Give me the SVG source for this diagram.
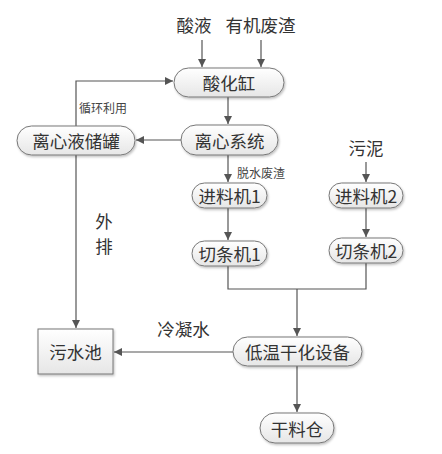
<svg xmlns="http://www.w3.org/2000/svg" width="442" height="454" viewBox="0 0 442 454">
<defs>
<linearGradient id="g" x1="0" y1="0" x2="0" y2="1">
<stop offset="0" stop-color="#ffffff"/>
<stop offset="1" stop-color="#e6e6e6"/>
</linearGradient>
<filter id="sh" x="-10%" y="-20%" width="130%" height="150%">
<feDropShadow dx="1" dy="1.5" stdDeviation="0.8" flood-color="#000" flood-opacity="0.25"/>
</filter>
<marker id="ar" viewBox="0 0 10 10" refX="10" refY="5" markerWidth="8" markerHeight="8" markerUnits="userSpaceOnUse" orient="auto">
<path d="M0,0 L10,5 L0,10 Z" fill="#555"/>
</marker>
</defs>
<style>
.n{fill:url(#g);stroke:#777;stroke-width:1;filter:url(#sh)}
.t{font-family:"Noto Sans CJK SC","Liberation Sans",sans-serif;font-size:17.5px;fill:#333;text-anchor:middle;dominant-baseline:central}
.s{font-family:"Noto Sans CJK SC","Liberation Sans",sans-serif;font-size:12px;fill:#444;dominant-baseline:central}
.c{fill:none;stroke:#555;stroke-width:1.2}
.a{marker-end:url(#ar)}
</style>
<rect width="442" height="454" fill="#fff"/>

<g id="labels">
<text class="t" x="194" y="24">酸液</text>
<text class="t" x="260.5" y="24">有机废渣</text>
<text class="t" x="366" y="147">污泥</text>
<text class="s" x="79" y="107">循环利用</text>
<text class="s" x="237" y="172">脱水废渣</text>
<text class="t" x="104" y="220">外</text>
<text class="t" x="104" y="245">排</text>
<text class="t" x="183.5" y="328">冷凝水</text>
</g>

<g id="connectors">
<path class="c a" d="M202,40 V67"/>
<path class="c a" d="M261,40 V67"/>
<path class="c a" d="M228,97 V124"/>
<path class="c a" d="M181,140 H136"/>
<path class="c a" d="M76,126 V81 H173"/>
<path class="c a" d="M228,155 V182"/>
<path class="c a" d="M366,162 V182"/>
<path class="c a" d="M228,208 V240"/>
<path class="c a" d="M366,208 V237"/>
<path class="c" d="M228,266 V289 H366 V263"/>
<path class="c a" d="M297,289 V336"/>
<path class="c a" d="M76,155 V328"/>
<path class="c a" d="M233,352 H114"/>
<path class="c a" d="M297,366 V412"/>
</g>

<g id="n_suanhuagang"><rect class="n" x="174" y="68" width="110" height="29" rx="14.5"/><text class="t" x="229" y="82">酸化缸</text></g>
<g id="n_lixinxitong"><rect class="n" x="181" y="125" width="97" height="30" rx="15"/><text class="t" x="229.5" y="140">离心系统</text></g>
<g id="n_lixinyechuguan"><rect class="n" x="17" y="126" width="118" height="29" rx="14.5"/><text class="t" x="76" y="140">离心液储罐</text></g>
<g id="n_jinliaoji1"><rect class="n" x="192" y="183" width="75" height="25" rx="12.5"/><text class="t" x="229.5" y="195.5">进料机1</text></g>
<g id="n_jinliaoji2"><rect class="n" x="329" y="183" width="74" height="25" rx="12.5"/><text class="t" x="366" y="195.5">进料机2</text></g>
<g id="n_qietiaoji1"><rect class="n" x="192" y="241" width="75" height="25" rx="12.5"/><text class="t" x="229.5" y="253.5">切条机1</text></g>
<g id="n_qietiaoji2"><rect class="n" x="329" y="238" width="74" height="25" rx="12.5"/><text class="t" x="366" y="250.5">切条机2</text></g>
<g id="n_wushuichi"><rect class="n" x="38" y="329" width="75" height="45" rx="0"/><text class="t" x="75.5" y="351.5">污水池</text></g>
<g id="n_diwenganhua"><rect class="n" x="233" y="337" width="129" height="29" rx="14.5"/><text class="t" x="297.5" y="351.5">低温干化设备</text></g>
<g id="n_ganliaocang"><rect class="n" x="260" y="413" width="74" height="30" rx="15"/><text class="t" x="297" y="428">干料仓</text></g>
</svg>
